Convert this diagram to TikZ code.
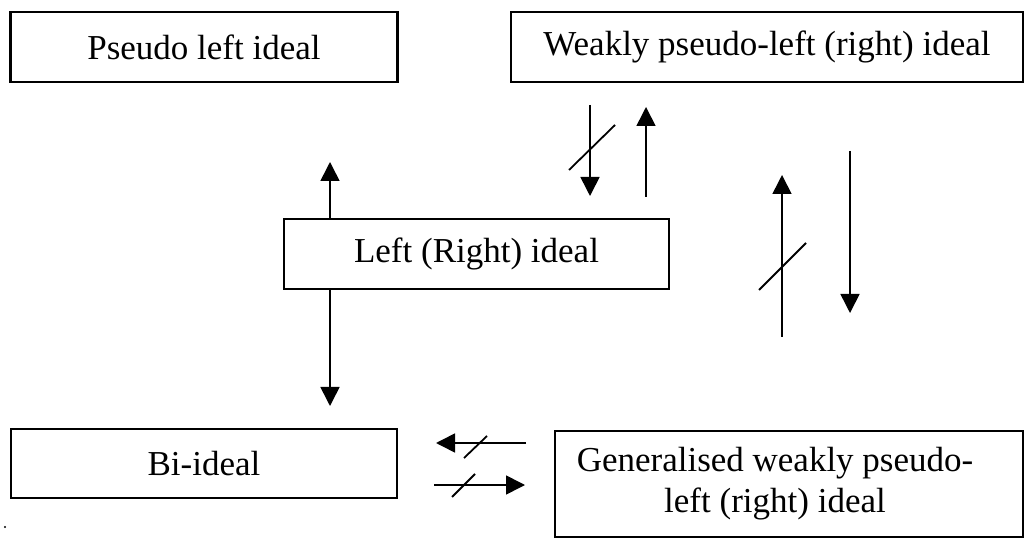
\documentclass[tikz,border=0pt]{standalone}
\usepackage{fontspec}
\setmainfont{Liberation Serif}
\usetikzlibrary{arrows.meta}
\tikzset{
  box/.style={draw, line width=1.2pt, inner sep=0pt, font=\fontsize{17.5}{20.5}\selectfont, align=center},
  txt/.style={inner sep=0pt, font=\fontsize{17.5}{20.5}\selectfont, align=center},
  arr/.style={line width=0.8pt, -{Triangle[length=9.5pt,width=9.5pt]}},
  slash/.style={line width=0.9pt},
}
\begin{document}
\begin{tikzpicture}[x=0.5pt,y=-0.5pt]
\useasboundingbox (0,0) rectangle (1026,544);
% boxes
\node[box, minimum width=193.5pt, minimum height=35pt] (pl) at (204,47) {Pseudo left ideal};
\node[box, minimum width=256pt, minimum height=35pt] (wp) at (767,47) {Weakly pseudo-left (right) ideal};
\node[box, minimum width=192.5pt, minimum height=35pt] (lr) at (476.5,254) {Left (Right) ideal};
\node[box, minimum width=193pt, minimum height=34.5pt] (bi) at (204,463.5) {Bi-ideal};
\node[box, minimum width=234pt, minimum height=53pt] (gw) at (789,484) {};
\node[txt] (gwt) at (775,484) {Generalised weakly pseudo-\\left (right) ideal};
% free ends
\coordinate (t1) at (330,162);
\coordinate (t2) at (330,406);
\coordinate (s3) at (590,105); \coordinate (t3) at (590,196);
\coordinate (s4) at (646,197); \coordinate (t4) at (646,107);
\coordinate (s5) at (782,337); \coordinate (t5) at (782,175);
\coordinate (s6) at (850,151); \coordinate (t6) at (850,313);
\coordinate (s7) at (526,443); \coordinate (t7) at (436,443);
\coordinate (s8) at (434,485); \coordinate (t8) at (525,485);
% arrows
\draw[arr] (lr.north -| t1) -- (t1);
\draw[arr] (lr.south -| t2) -- (t2);
\draw[arr] (s3) -- (t3);
\draw[arr] (s4) -- (t4);
\draw[arr] (s5) -- (t5);
\draw[arr] (s6) -- (t6);
\draw[arr] (s7) -- (t7);
\draw[arr] (s8) -- (t8);
% negation slashes
\coordinate (m3) at (592,147);
\coordinate (m5) at (782,266);
\coordinate (m7) at (475.5,447);
\coordinate (m8) at (463.5,485.5);
\draw[slash] ([shift={(-23,23)}]m3) -- ([shift={(23,-22)}]m3);
\draw[slash] ([shift={(-23,24)}]m5) -- ([shift={(24,-23)}]m5);
\draw[slash] ([shift={(-11.5,11)}]m7) -- ([shift={(11.5,-11)}]m7);
\draw[slash] ([shift={(-11.5,11.5)}]m8) -- ([shift={(11.5,-11.5)}]m8);
% stray dot
\fill (5,527) circle (1.2);
\end{tikzpicture}
\end{document}
